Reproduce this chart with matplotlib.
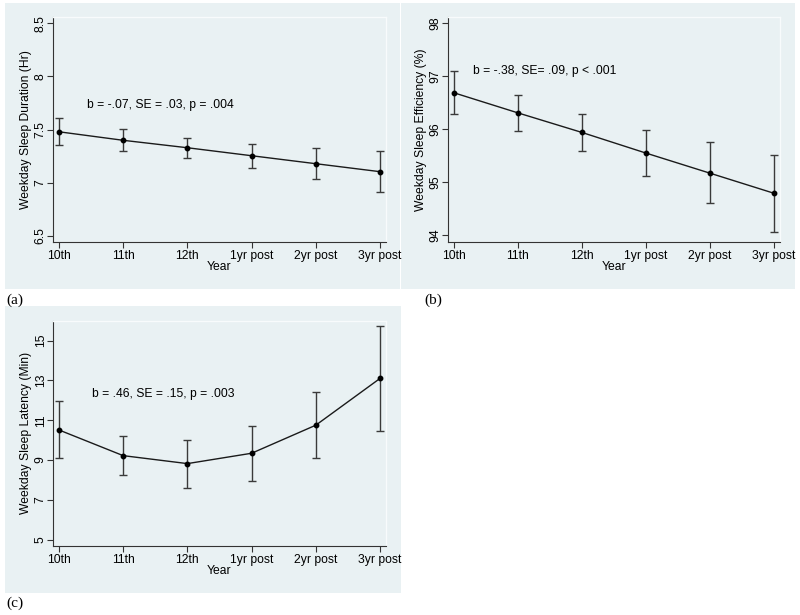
import matplotlib
matplotlib.use("Agg")
import matplotlib.pyplot as plt
from matplotlib.patches import Rectangle

plt.rcParams['font.family'] = ['Liberation Sans', 'DejaVu Sans']

years = ["10th", "11th", "12th", "1yr post", "2yr post", "3yr post"]

dur_mean = [7.48, 7.40, 7.33, 7.255, 7.18, 7.105]
dur_lo = [7.355, 7.30, 7.237, 7.143, 7.033, 6.914]
dur_hi = [7.61, 7.503, 7.425, 7.365, 7.33, 7.30]

eff_mean = [96.69, 96.31, 95.94, 95.55, 95.17, 94.79]
eff_lo = [96.28, 95.97, 95.59, 95.12, 94.60, 94.06]
eff_hi = [97.10, 96.65, 96.28, 95.99, 95.75, 95.52]

lat_mean = [10.51, 9.22, 8.82, 9.34, 10.75, 13.10]
lat_lo = [9.09, 8.23, 7.58, 7.93, 9.09, 10.46]
lat_hi = [11.95, 10.20, 10.02, 10.71, 12.42, 15.71]

dur_ticks = [6.5, 7, 7.5, 8, 8.5]
eff_ticks = [94, 95, 96, 97, 98]
lat_ticks = [5, 7, 9, 11, 13, 15]

W, H = 800, 615
BG = "#E9F1F3"
FS = 8.7

fig = plt.figure(figsize=(8, 6.15), dpi=100)
fig.patch.set_facecolor("white")


def px_rect(x0, y0, x1, y1):
    return [x0 / W, 1 - y1 / H, (x1 - x0) / W, (y1 - y0) / H]


def add_bg(x0, y0, x1, y1):
    l, b, w, h = px_rect(x0, y0, x1, y1)
    fig.patches.append(Rectangle((l, b), w, h, transform=fig.transFigure,
                                 facecolor=BG, edgecolor="none", zorder=-10))


add_bg(5, 3, 399.5, 288.5)
add_bg(400.5, 3, 795, 289)
add_bg(5, 306, 400.5, 593)


def panel(rect_px, mean, lo, hi, ticks, ylim, ylabel, note, note_xy):
    ax = fig.add_axes(px_rect(*rect_px))
    ax.set_zorder(5)
    ax.set_facecolor(BG)
    x = list(range(len(years)))
    yerr = [[m - l for m, l in zip(mean, lo)], [h - m for m, h in zip(mean, hi)]]
    ax.errorbar(x, mean, yerr=yerr, fmt="none", ecolor="#3a3a3a", elinewidth=1.0,
                capsize=3, capthick=1.0, zorder=2)
    ax.plot(x, mean, color="#1a1a1a", lw=1.0, marker="o", ms=3.2,
            markerfacecolor="black", markeredgecolor="black", zorder=3)
    ax.set_xlim(-0.093, 5.093)
    ax.set_ylim(*ylim)
    ax.set_xticks(x)
    ax.set_xticklabels(years, fontsize=FS)
    ax.set_yticks(ticks)
    ax.set_yticklabels(["%g" % t for t in ticks], fontsize=FS, rotation=90,
                       va="center")
    ax.tick_params(axis="both", direction="out", length=4, width=0.8,
                   color="#333333")
    ax.tick_params(axis="x", pad=1.5)
    ax.tick_params(axis="y", pad=0.5)
    for s in ["top", "right"]:
        ax.spines[s].set_color("#F8FBFC")
        ax.spines[s].set_linewidth(1.0)
    for s in ["left", "bottom"]:
        ax.spines[s].set_color("#333333")
        ax.spines[s].set_linewidth(0.8)
    ax.set_xlabel("Year", fontsize=FS, labelpad=-0.5)
    ax.set_ylabel(ylabel, fontsize=FS)
    width_px = rect_px[2] - rect_px[0]
    ax.yaxis.set_label_coords(-21.0 / width_px, 0.5)
    ax.text(note_xy[0], note_xy[1], note, fontsize=FS, ha="left", va="center")
    return ax


panel((53, 17, 386, 242), dur_mean, dur_lo, dur_hi, dur_ticks, (6.444, 8.559),
      "Weekday Sleep Duration (Hr)", "b = -.07, SE = .03, p = .004", (0.43, 7.735))
panel((447.7, 17, 780, 242), eff_mean, eff_lo, eff_hi, eff_ticks, (93.87, 98.12),
      "Weekday Sleep Efficiency (%)", "b = -.38, SE= .09, p < .001", (0.30, 97.10))
panel((53, 320.7, 386, 546), lat_mean, lat_lo, lat_hi, lat_ticks, (4.68, 16.0),
      "Weekday Sleep Latency (Min)", "b = .46, SE = .15, p = .003", (0.52, 12.33))

serif = ['Liberation Serif', 'DejaVu Serif']
fig.text(6 / W, 1 - 300 / H, "(a)", family=serif, fontsize=11, va="center", ha="left")
fig.text(424 / W, 1 - 300 / H, "(b)", family=serif, fontsize=11, va="center", ha="left")
fig.text(6 / W, 1 - 603 / H, "(c)", family=serif, fontsize=11, va="center", ha="left")

fig.savefig("out.png", dpi=100, facecolor="white")
